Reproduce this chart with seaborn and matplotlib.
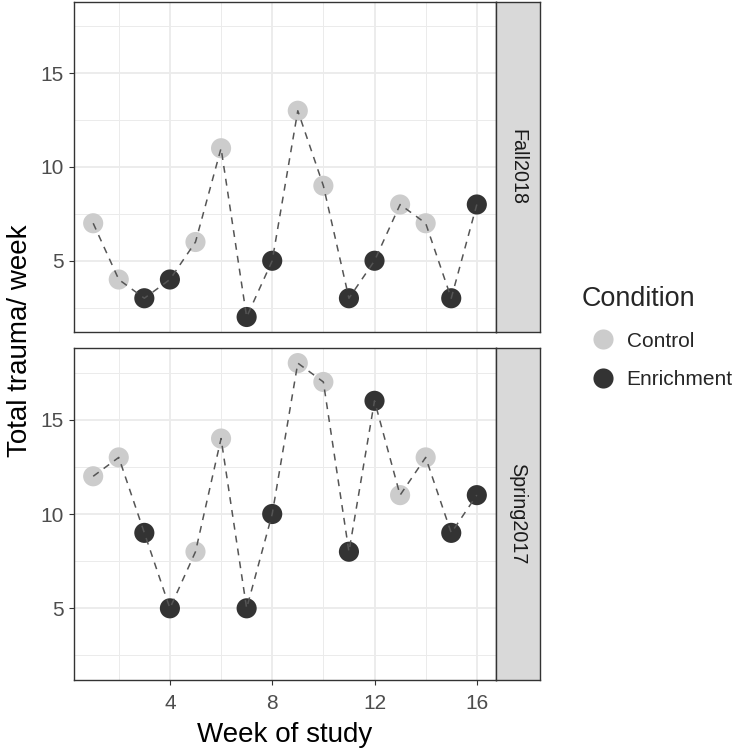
import numpy as np
import pandas as pd
import seaborn as sns
import matplotlib
matplotlib.use("Agg")
import matplotlib.pyplot as plt
from matplotlib.ticker import MultipleLocator

# data
weeks = list(range(1, 17))
fall_values = [7, 4, 3, 4, 6, 11, 2, 5, 13, 9, 3, 5, 8, 7, 3, 8]
fall_condition = ["Control", "Control", "Enrichment", "Enrichment", "Control", "Control",
                  "Enrichment", "Enrichment", "Control", "Control", "Enrichment", "Enrichment",
                  "Control", "Control", "Enrichment", "Enrichment"]
spring_values = [12, 13, 9, 5, 8, 14, 5, 10, 18, 17, 8, 16, 11, 13, 9, 11]
spring_condition = fall_condition
semesters = ["Fall2018", "Spring2017"]

fall = pd.DataFrame({"week": weeks, "trauma": fall_values, "Condition": fall_condition})
spring = pd.DataFrame({"week": weeks, "trauma": spring_values, "Condition": spring_condition})
panels = {"Fall2018": fall, "Spring2017": spring}

sns.set_style("white")
plt.rcParams["font.family"] = ["Liberation Sans", "DejaVu Sans"]

palette = {"Control": "#cccccc", "Enrichment": "#333333"}
W, H = 738, 750
fig = plt.figure(figsize=(W / 100, H / 100), dpi=100)

boxes = {"Fall2018": (2, 332), "Spring2017": (348, 680)}
px_left, px_right, strip_right = 74, 496, 540

axes = []
for sem in semesters:
    top, bot = boxes[sem]
    ax = fig.add_axes([px_left / W, 1 - bot / H, (px_right - px_left) / W, (bot - top) / H])
    d = panels[sem]
    sns.scatterplot(data=d, x="week", y="trauma", hue="Condition", palette=palette,
                    hue_order=["Control", "Enrichment"], s=210, linewidth=0, ax=ax,
                    zorder=3, legend=(sem == "Fall2018"))
    sns.lineplot(data=d, x="week", y="trauma", estimator=None, sort=True, color="#555555",
                 linewidth=1.1, dashes=False, ax=ax, zorder=4)
    ax.lines[-1].set_linestyle((0, (4.5, 4)))
    ax.set_xlim(0.25, 16.75)
    ax.set_ylim(1.2, 18.8)
    ax.xaxis.set_major_locator(MultipleLocator(4))
    ax.xaxis.set_minor_locator(MultipleLocator(2))
    ax.yaxis.set_major_locator(MultipleLocator(5))
    ax.yaxis.set_minor_locator(MultipleLocator(2.5))
    ax.grid(which="major", color="#ebebeb", linewidth=1.3, zorder=0)
    ax.grid(which="minor", color="#ebebeb", linewidth=0.7, zorder=0)
    ax.set_axisbelow(True)
    for sp in ax.spines.values():
        sp.set_color("#333333")
        sp.set_linewidth(1.0)
    ax.tick_params(which="major", length=3.8, width=0.8, color="#333333",
                   labelsize=15, labelcolor="#4d4d4d", left=True, bottom=True)
    ax.tick_params(axis="y", pad=3.5)
    ax.tick_params(axis="x", pad=6)
    ax.tick_params(which="minor", length=0)
    ax.set_xlabel("")
    ax.set_ylabel("")

    # facet strip
    sax = fig.add_axes([px_right / W, 1 - bot / H, (strip_right - px_right) / W, (bot - top) / H])
    sax.set_facecolor("#d9d9d9")
    sax.set_xticks([])
    sax.set_yticks([])
    for sp in sax.spines.values():
        sp.set_color("#333333")
        sp.set_linewidth(1.0)
    sax.text(0.5, 0.5, sem, rotation=-90, ha="center", va="center", fontsize=14.2,
             color="#1a1a1a", transform=sax.transAxes)
    axes.append(ax)

axes[0].tick_params(labelbottom=False, bottom=False)

handles, labels = axes[0].get_legend_handles_labels()
axes[0].get_legend().remove()
fig.legend(handles, labels, title="Condition", loc="upper left",
           bbox_to_anchor=(563 / W, 1 - 267 / H), frameon=False, fontsize=15.0,
           title_fontsize=19.4, markerscale=1.0, handletextpad=0.15, labelspacing=0.95,
           alignment="left")

fig.text(20 / W, 1 - 341 / H, "Total trauma/ week", rotation=90, ha="center", va="center",
         fontsize=20, color="black")
fig.text(285 / W, 1 - 735 / H, "Week of study", ha="center", va="center",
         fontsize=20, color="black")

fig.savefig("out.png", dpi=100, facecolor="white")
